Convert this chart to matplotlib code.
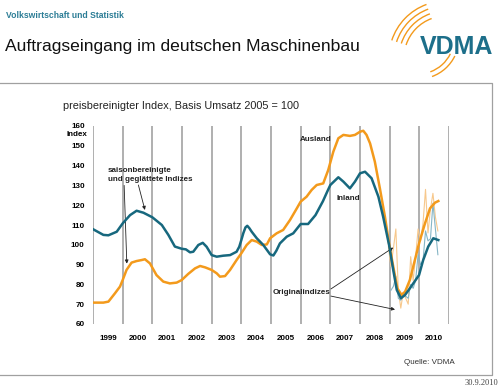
import matplotlib
matplotlib.use("Agg")
import matplotlib.pyplot as plt
from matplotlib.patches import Arc

plt.rcParams["font.family"] = ["Liberation Sans", "DejaVu Sans"]

# --- DATA ---
# smoothed, seasonally adjusted indices (time in decimal years)
inland_t = [1999.01, 1999.35, 1999.52, 1999.80, 2000.00, 2000.25, 2000.47, 2000.70,
            2001.00, 2001.32, 2001.54, 2001.76, 2001.99, 2002.13, 2002.27, 2002.38,
            2002.55, 2002.70, 2002.83, 2003.00, 2003.17, 2003.39, 2003.62, 2003.84,
            2003.93, 2004.00, 2004.07, 2004.14, 2004.20, 2004.27, 2004.35, 2004.52,
            2004.74, 2004.97, 2005.08, 2005.18, 2005.30, 2005.53, 2005.75, 2006.00,
            2006.25, 2006.50, 2006.75, 2006.90, 2007.00, 2007.27, 2007.44, 2007.66,
            2007.83, 2008.00, 2008.17, 2008.39, 2008.62, 2008.78, 2008.98, 2009.12,
            2009.24, 2009.38, 2009.52, 2009.68, 2009.99, 2010.13, 2010.30, 2010.47,
            2010.64]
inland_v = [107.8, 105.0, 104.8, 106.6, 110.8, 115.0, 117.2, 116.2,
            113.9, 110.0, 105.0, 99.1, 98.0, 97.7, 96.2, 96.5,
            99.9, 101.0, 99.0, 94.8, 94.0, 94.5, 94.8, 96.5,
            99.0, 102.4, 106.0, 108.8, 109.6, 108.4, 106.6, 103.3,
            99.9, 95.2, 94.6, 97.0, 100.7, 104.1, 105.8, 110.5,
            110.5, 115.0, 122.0, 127.0, 130.2, 134.1, 131.9, 128.5,
            131.9, 136.1, 136.9, 133.6, 124.3, 114.2, 99.9, 87.3,
            77.2, 73.0, 74.7, 78.0, 84.7, 92.3, 99.1, 103.3,
            102.4]

ausland_t = [1999.01, 1999.35, 1999.52, 1999.74, 1999.91, 2000.00, 2000.13, 2000.30,
             2000.47, 2000.64, 2000.75, 2000.92, 2001.14, 2001.37, 2001.59, 2001.82,
             2001.99, 2002.21, 2002.44, 2002.61, 2002.78, 2003.00, 2003.17, 2003.28,
             2003.45, 2003.62, 2003.84, 2004.00, 2004.18, 2004.35, 2004.52, 2004.69,
             2004.86, 2004.97, 2005.19, 2005.41, 2005.64, 2005.87, 2006.00, 2006.20,
             2006.37, 2006.54, 2006.76, 2006.93, 2007.10, 2007.27, 2007.44, 2007.66,
             2007.83, 2008.00, 2008.11, 2008.22, 2008.34, 2008.50, 2008.67, 2008.84,
             2008.98, 2009.12, 2009.26, 2009.40, 2009.52, 2009.68, 2009.85, 2009.99,
             2010.19, 2010.36, 2010.53, 2010.64]
ausland_v = [70.8, 70.8, 71.3, 75.5, 78.9, 82.2, 87.3, 91.0,
             91.8, 92.3, 92.7, 90.6, 84.7, 81.4, 80.5, 80.9,
             82.2, 85.3, 88.1, 89.3, 88.6, 87.3, 85.6, 83.9,
             84.2, 87.3, 92.3, 95.7, 99.9, 102.4, 101.6, 99.9,
             100.2, 103.3, 105.8, 107.5, 112.5, 118.4, 121.8, 124.3,
             127.7, 130.2, 131.0, 137.8, 147.0, 153.8, 155.5, 155.0,
             155.5, 157.1, 157.6, 155.5, 151.2, 142.0, 128.5, 114.2,
             100.7, 89.0, 78.0, 74.7, 76.3, 82.2, 92.3, 100.7,
             110.8, 118.4, 121.3, 122.1]

# original (unadjusted) monthly indices, Dec 2008 .. Aug 2010
raw_months = ["2008-12", "2009-01", "2009-02", "2009-03", "2009-04", "2009-05", "2009-06",
              "2009-07", "2009-08", "2009-09", "2009-10", "2009-11", "2009-12", "2010-01",
              "2010-02", "2010-03", "2010-04", "2010-05", "2010-06", "2010-07", "2010-08"]
raw_ausland = [99, 89, 98, 108, 77, 68, 76, 73, 70, 94, 82, 94, 108, 102,
               111, 128, 106, 118, 126, 114, 107]
raw_inland = [None, 77, 79, 84, 73, 72, 75, 74, 73, 80, 78, 82, 95, 90,
              92, 107, 102, 103, 121, 108, 95]

years = list(range(1999, 2011))

ORANGE = "#f39a1c"
TEAL = "#17687e"
LIGHT_ORANGE = "#f7c88c"
LIGHT_TEAL = "#86b6c6"
GRID = "#9a9a9a"


def month_pos(m):
    y, mo = m.split("-")
    return int(y) + (int(mo) - 0.5) / 12


fig = plt.figure(figsize=(5, 3.89), dpi=100)

# overlay in pixel coordinates for header / frame decorations
deco = fig.add_axes([0, 0, 1, 1])
deco.set_xlim(0, 500)
deco.set_ylim(389, 0)
deco.axis("off")

deco.plot([0, 492, 492, 0], [83, 83, 375, 375], color="#a0a0a0", lw=0.9)
deco.text(6, 15, "Volkswirtschaft und Statistik", fontsize=6.2, fontweight="bold",
          color="#2c7d96", va="center", ha="left")
deco.text(5, 46, "Auftragseingang im deutschen Maschinenbau", fontsize=12.6,
          color="#111111", va="center", ha="left")
deco.text(420, 54, "VDMA", fontsize=18, fontweight="bold", color="#1d6f8a",
          va="baseline", ha="left")
for r in (42, 47, 52, 57):
    deco.add_patch(Arc((446, 58), 2 * r, 2 * r, theta1=198, theta2=250,
                       color=ORANGE, lw=1.0))
for r in (36, 41):
    deco.add_patch(Arc((418, 38), 2 * r, 2 * r, theta1=26, theta2=70,
                       color=ORANGE, lw=1.0))
deco.text(63, 106, "preisbereinigter Index, Basis Umsatz 2005 = 100", fontsize=7.8,
          color="#222222", va="center", ha="left")
deco.text(429, 363, "Quelle: VDMA", fontsize=5.8, color="#333333", va="center", ha="center")
deco.text(498, 383, "30.9.2010", fontsize=6, family="Liberation Serif",
          color="#444444", va="center", ha="right")
deco.text(87, 134, "Index", fontsize=5.8, fontweight="bold", va="center", ha="right")

# --- main chart ---
ax = fig.add_axes([93 / 500, 65 / 389, 356 / 500, 198 / 389])
ax.set_xlim(1999, 2011)
ax.set_ylim(60, 160)
for s in ax.spines.values():
    s.set_visible(False)
ax.vlines(range(1999, 2012), 60, 160, color=GRID, lw=1.1, zorder=1)

ax.set_yticks(range(60, 161, 10))
ax.set_xticks([y + 0.5 for y in years])
ax.set_xticklabels([str(y) for y in years])
ax.tick_params(length=0, labelsize=5.8)
ax.tick_params(axis="y", pad=6)
ax.tick_params(axis="x", pad=8)
for lab in ax.get_xticklabels() + ax.get_yticklabels():
    lab.set_fontweight("bold")

rt = [month_pos(m) for m in raw_months]
ax.plot(rt, raw_ausland, color=LIGHT_ORANGE, lw=0.8, zorder=2)
ri_t = [t for t, v in zip(rt, raw_inland) if v is not None]
ri_v = [v for v in raw_inland if v is not None]
ax.plot(ri_t, ri_v, color=LIGHT_TEAL, lw=0.8, zorder=2)

ax.plot(ausland_t, ausland_v, color=ORANGE, lw=1.8, zorder=3)
ax.plot(inland_t, inland_v, color=TEAL, lw=1.8, zorder=4)

lbl = dict(fontsize=5.8, fontweight="bold", color="#222222")
ax.text(2006.52, 153.4, "Ausland", ha="center", va="center", **lbl)
ax.text(2007.59, 123.6, "Inland", ha="center", va="center", **lbl)
ax.text(1999.51, 135.5, "saisonbereinigte\nund geglättete Indizes", ha="left",
        va="center", linespacing=1.4, **lbl)
ax.text(2005.06, 75.8, "Originalindizes", ha="left", va="center", **lbl)

arrow = dict(arrowstyle="-|>", color="#222222", lw=0.6, mutation_scale=5,
             shrinkA=0, shrinkB=0)
ax.annotate("", xy=(2000.14, 90.5), xytext=(2000.05, 130.0), arrowprops=arrow)
ax.annotate("", xy=(2000.75, 117.6), xytext=(2000.53, 130.2), arrowprops=arrow)
ax.annotate("", xy=(2009.12, 98.6), xytext=(2007.02, 77.7), arrowprops=arrow)
ax.annotate("", xy=(2009.18, 67.3), xytext=(2007.02, 74.1), arrowprops=arrow)

fig.savefig("out.png", dpi=100)
